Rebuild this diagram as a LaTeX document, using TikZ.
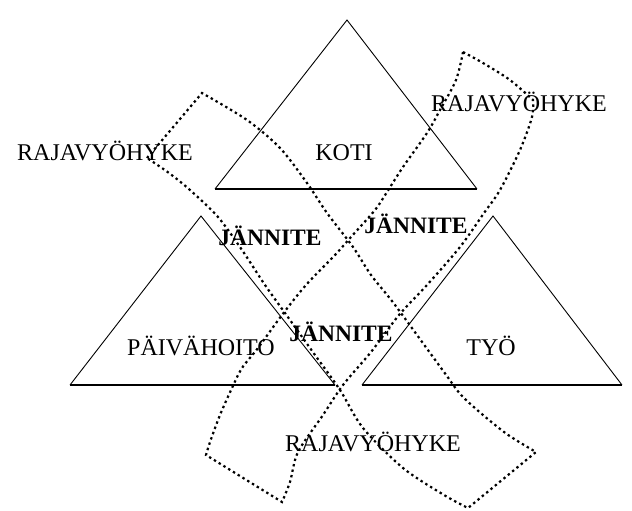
\documentclass[tikz,border=0pt]{standalone}
\usepackage{fontspec}
\setmainfont{Liberation Serif}
\begin{document}
\begin{tikzpicture}[x=1pt,y=-1pt,
  tri/.style={line width=0.9pt, line join=miter},
  tribase/.style={line width=1.5pt},
  zone/.style={line width=2.2pt, dash pattern=on 2.4pt off 3.2pt},
  lbl/.style={font=\fontsize{24}{24}\selectfont, inner sep=0pt, anchor=base},
  blbl/.style={font=\fontsize{23.5}{24}\selectfont\bfseries, inner sep=0pt, anchor=base}]
\useasboundingbox (0,0) rectangle (632,511);
% triangles
\draw[tri] (215,189) -- (347,20) -- (477,189);
\draw[tribase] (215,189) -- (477,189);
\draw[tri] (70,385) -- (201,216) -- (335,385);
\draw[tribase] (70,385) -- (335,385);
\draw[tri] (362,385) -- (493,216) -- (622,385);
\draw[tribase] (362,385) -- (622,385);
% zone A (upper-left to lower-right)
\draw[zone] (147,158) -- (202,93)
  -- plot[smooth, tension=0.5] coordinates {(202,93) (247,120) (280,148) (307,183) (327,213) (353,247) (371,275) (395,305) (444,372) (464,398) (504,432) (536,452)}
  -- (468,508)
  -- plot[smooth, tension=0.5] coordinates {(468,508) (444,495) (403,468) (363,428) (340,390) (315,355) (290,320) (265,285) (242,250) (218,217) (190,190) (169,173) (147,158)}
  -- cycle;
% zone B (upper-right to lower-left)
\draw[zone] (463,52)
  -- plot[smooth, tension=0.5] coordinates {(463,52) (483,63) (510,80) (533,100)}
  -- plot[smooth, tension=0.5] coordinates {(533,100) (532,117) (520,150) (500,190) (484,213) (460,247) (427,285) (399,315) (371,352) (343,385) (323,415) (298,452) (290,482) (282,502)}
  -- (206,455)
  -- plot[smooth, tension=0.5] coordinates {(206,455) (210,442) (220,415) (232,388) (242,368) (258,348) (282,315) (306,285) (335,255) (351,237) (375,210) (387,192) (403,167) (427,133) (440,110) (456,80) (463,52)}
  -- cycle;
% labels
\node[lbl] (rajaL) at (105,160) {RAJAVYÖHYKE};
\node[lbl] (koti) at (344,160) {KOTI};
\node[lbl] (rajaR) at (519,111) {RAJAVYÖHYKE};
\node[blbl] (jL) at (270,245) {JÄNNITE};
\node[blbl] (jR) at (416,233) {JÄNNITE};
\node[blbl] (jC) at (341,341) {JÄNNITE};
\node[lbl] (paiva) at (201,355) {PÄIVÄHOITO};
\node[lbl] (tyo) at (491,355) {TYÖ};
\node[lbl] (rajaB) at (373,451) {RAJAVYÖHYKE};
\end{tikzpicture}
\end{document}
